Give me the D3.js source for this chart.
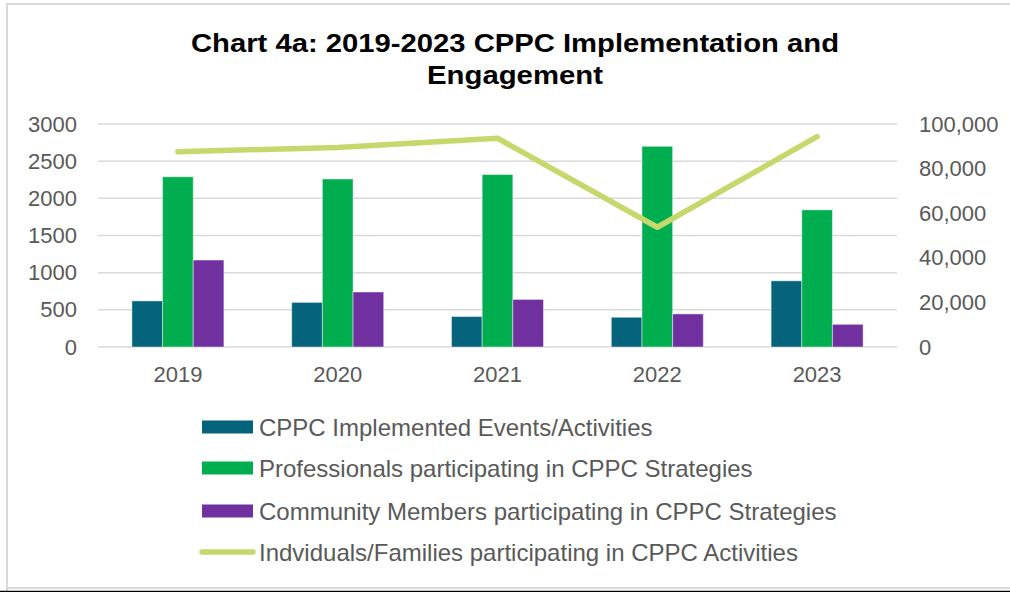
<!DOCTYPE html>
<html>
<head>
<meta charset="utf-8">
<script src="https://cdn.jsdelivr.net/npm/d3@7"></script>
<style>
  html, body { margin: 0; padding: 0; background: #fff; }
  svg { display: block; font-family: "Liberation Sans", Arial, sans-serif; }
</style>
</head>
<body>
<svg id="chart" width="1010" height="592"></svg>
<script>
// Years on the category axis
const years = ["2019", "2020", "2021", "2022", "2023"];

// Bar series (left axis)
const events = [620, 600, 410, 400, 890];
const professionals = [2290, 2260, 2320, 2700, 1845];
const community = [1170, 740, 640, 445, 305];

// Line series (right axis)
const families = [87600, 89500, 93600, 53700, 94300];

// Axis ticks
const leftTicks = [0, 500, 1000, 1500, 2000, 2500, 3000];
const rightTicks = [0, 20000, 40000, 60000, 80000, 100000];

const seriesNames = [
  "CPPC Implemented Events/Activities",
  "Professionals participating in CPPC Strategies",
  "Community Members participating in CPPC Strategies",
  "Indviduals/Families participating in CPPC Activities"
];

const barSeries = [
  { name: seriesNames[0], values: events, color: "#05637B" },
  { name: seriesNames[1], values: professionals, color: "#00AE4F" },
  { name: seriesNames[2], values: community, color: "#7030A0" }
];
const lineColor = "#C5D86C";

const svg = d3.select("#chart");
const W = 1010, H = 592;
const plot = { left: 98, right: 897, top: 124, bottom: 347 };

// Frame
svg.append("rect").attr("width", W).attr("height", H).attr("fill", "#fff");
svg.append("path")
  .attr("d", `M7,${H} V4 H${W}`)
  .attr("fill", "none").attr("stroke", "#d9d9d9").attr("stroke-width", 2);
svg.append("line").attr("x1", 7).attr("x2", W).attr("y1", 588).attr("y2", 588)
  .attr("stroke", "#d9d9d9").attr("stroke-width", 2);
svg.append("line").attr("x1", 0).attr("x2", W).attr("y1", 591.5).attr("y2", 591.5)
  .attr("stroke", "#000").attr("stroke-width", 1.5);

// Title (two lines, slightly widened bold face)
const title = svg.append("text")
  .attr("text-anchor", "middle")
  .attr("font-weight", "bold").attr("font-size", 25).attr("fill", "#000");
title.append("tspan").attr("x", 515).attr("y", 52)
  .attr("textLength", 648).attr("lengthAdjust", "spacingAndGlyphs")
  .text("Chart 4a: 2019-2023 CPPC Implementation and");
title.append("tspan").attr("x", 515).attr("y", 84)
  .attr("textLength", 176).attr("lengthAdjust", "spacingAndGlyphs")
  .text("Engagement");

// Scales
const x0 = d3.scaleBand().domain(years).range([plot.left, plot.right]).paddingInner(0).paddingOuter(0);
const groupW = 92;
const x1 = d3.scaleBand().domain(barSeries.map(s => s.name)).range([0, groupW]);
const yL = d3.scaleLinear().domain([0, 3000]).range([plot.bottom, plot.top]);
const yR = d3.scaleLinear().domain([0, 100000]).range([plot.bottom, plot.top]);

// Gridlines
svg.append("g").selectAll("line").data(leftTicks).join("line")
  .attr("x1", plot.left).attr("x2", plot.right)
  .attr("y1", d => yL(d)).attr("y2", d => yL(d))
  .attr("stroke", "#d9d9d9").attr("stroke-width", 1.5);

// Left axis
const axisL = svg.append("g").attr("transform", `translate(${plot.left},0)`)
  .call(d3.axisLeft(yL).tickValues(leftTicks).tickSize(0).tickPadding(21).tickFormat(d3.format("d")));
axisL.select(".domain").remove();
axisL.selectAll("text").attr("font-size", 22).attr("fill", "#595959")
  .attr("font-family", "Liberation Sans, Arial, sans-serif");

// Right axis
const axisR = svg.append("g").attr("transform", `translate(${plot.right},0)`)
  .call(d3.axisRight(yR).tickValues(rightTicks).tickSize(0).tickPadding(22).tickFormat(d3.format(",")));
axisR.select(".domain").remove();
axisR.selectAll("text").attr("font-size", 22).attr("fill", "#595959")
  .attr("font-family", "Liberation Sans, Arial, sans-serif");

// Category axis
const axisB = svg.append("g").attr("transform", `translate(0,${plot.bottom})`)
  .call(d3.axisBottom(x0).tickSize(0).tickPadding(19));
axisB.select(".domain").remove();
axisB.selectAll("text").attr("font-size", 22).attr("fill", "#595959")
  .attr("font-family", "Liberation Sans, Arial, sans-serif");

// Bars
const groups = svg.append("g").selectAll("g").data(years).join("g")
  .attr("transform", d => `translate(${x0(d) + (x0.bandwidth() - groupW) / 2},0)`);
groups.selectAll("rect")
  .data((d, i) => barSeries.map(s => ({ name: s.name, color: s.color, v: s.values[i] })))
  .join("rect")
  .attr("x", d => x1(d.name))
  .attr("width", x1.bandwidth())
  .attr("y", d => yL(d.v))
  .attr("height", d => yL(0) - yL(d.v))
  .attr("fill", d => d.color)
  .attr("stroke", "rgba(255,255,255,0.45)")
  .attr("stroke-width", 1);

// Line
const line = d3.line()
  .x((d, i) => x0(years[i]) + x0.bandwidth() / 2)
  .y(d => yR(d));
svg.append("path").datum(families)
  .attr("d", line)
  .attr("fill", "none")
  .attr("stroke", lineColor)
  .attr("stroke-width", 5.5)
  .attr("stroke-linecap", "round")
  .attr("stroke-linejoin", "round");

// Legend
const legendY = [427, 468, 511, 552];
const legend = svg.append("g");
barSeries.forEach((s, i) => {
  legend.append("rect").attr("x", 202).attr("y", legendY[i] - 6.5)
    .attr("width", 51).attr("height", 13).attr("fill", s.color);
});
legend.append("line").attr("x1", 202).attr("x2", 253)
  .attr("y1", legendY[3]).attr("y2", legendY[3])
  .attr("stroke", lineColor).attr("stroke-width", 5.5).attr("stroke-linecap", "round");
seriesNames.forEach((n, i) => {
  legend.append("text").attr("x", 259).attr("y", legendY[i])
    .attr("dy", "0.36em").attr("font-size", 24).attr("fill", "#595959").text(n);
});
</script>
</body>
</html>
